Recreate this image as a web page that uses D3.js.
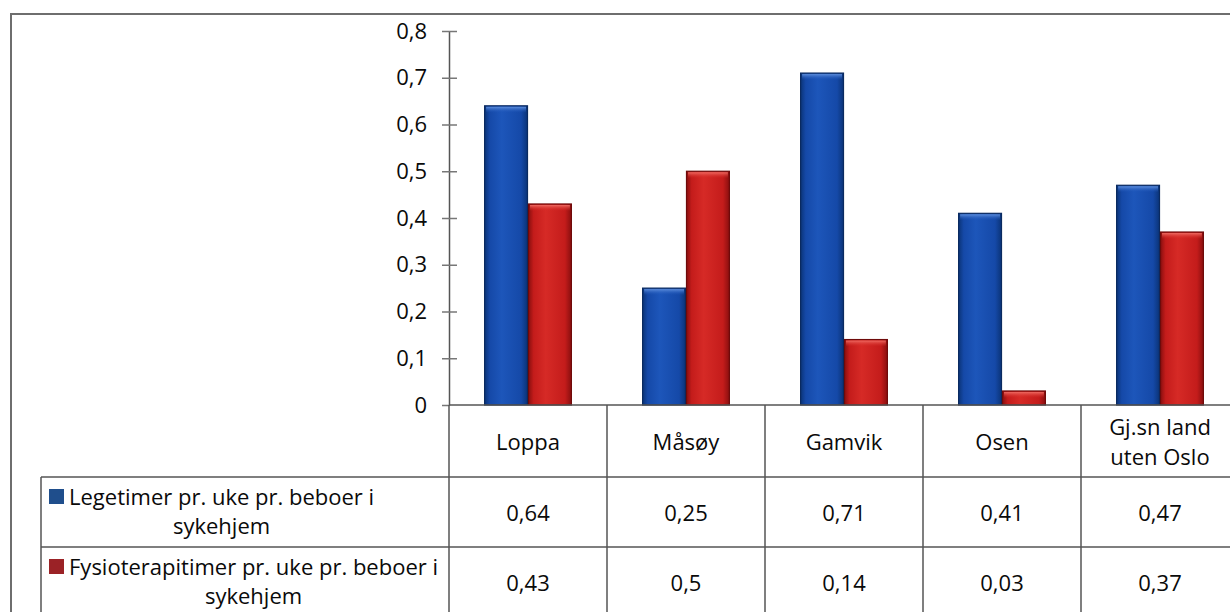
<!DOCTYPE html>
<html><head><meta charset="utf-8">
<script src="https://cdn.jsdelivr.net/npm/d3@7"></script>
<style>
html,body{margin:0;padding:0;background:#fff;}
text{font-family:"Open Sans","Noto Sans",sans-serif;fill:#0a0a0a;}
</style></head>
<body>
<svg id="c" width="1230" height="612"></svg>
<script>
const categories = ["Loppa", "Måsøy", "Gamvik", "Osen", "Gj.sn land\nuten Oslo"];
const seriesNames = ["Legetimer pr. uke pr. beboer i sykehjem", "Fysioterapitimer pr. uke pr. beboer i sykehjem"];
const legeValues = [0.64, 0.25, 0.71, 0.41, 0.47];
const fysioValues = [0.43, 0.5, 0.14, 0.03, 0.37];
const tableLabels = [["0,64","0,25","0,71","0,41","0,47"],["0,43","0,5","0,14","0,03","0,37"]];
const yTicks = [0, 0.1, 0.2, 0.3, 0.4, 0.5, 0.6, 0.7, 0.8];

const svg = d3.select("#c");
const W = 1230, H = 612;
const plotL = 449, plotR = 1239, plotT = 31, plotB = 405;
const row1B = 477, row2B = 547, legendL = 41;
const FS = 22;

const seriesVals = [legeValues, fysioValues];
const fills = ["blue","red"];
const legendColors = ["#1f4e8c","#9b2226"];

const defs = svg.append("defs");
function grad(id, edge, mid, light){
  const g = defs.append("linearGradient").attr("id", id).attr("x1","0").attr("x2","1").attr("y1","0").attr("y2","0");
  g.append("stop").attr("offset","0%").attr("stop-color",edge);
  g.append("stop").attr("offset","12%").attr("stop-color",mid);
  g.append("stop").attr("offset","40%").attr("stop-color",light);
  g.append("stop").attr("offset","85%").attr("stop-color",mid);
  g.append("stop").attr("offset","100%").attr("stop-color",edge);
}
grad("blue", "#0b3478", "#1549a8", "#1d56ba");
grad("red", "#8a0f0f", "#c41c1b", "#d62a26");
function vgrad(id, top, bottom){
  const g = defs.append("linearGradient").attr("id", id).attr("x1","0").attr("x2","0").attr("y1","0").attr("y2","1");
  g.append("stop").attr("offset","0%").attr("stop-color",top);
  g.append("stop").attr("offset","100%").attr("stop-color",bottom).attr("stop-opacity",0);
}
vgrad("blueTop", "#5d8ddb", "#1d56ba");
vgrad("redTop", "#ee6a62", "#d62a26");

// outer border
svg.append("path").attr("d", `M11,${H+5} L11,14 L${W+5},14`).attr("fill","none").attr("stroke","#6e6e6e").attr("stroke-width",2);

const x0 = d3.scaleBand().domain(d3.range(categories.length)).range([plotL, plotR]).padding(0);
const x1 = d3.scaleBand().domain([0,1]).range([0, x0.bandwidth()]).paddingInner(0).paddingOuter(0.8);
const y = d3.scaleLinear().domain([0, 0.8]).range([plotB, plotT]);

// bars
seriesVals.forEach((vals, s) => {
  const g = svg.append("g");
  g.selectAll("rect.bar").data(vals).join("rect").attr("class","bar")
    .attr("x", (d,i) => x0(i) + x1(s) + 0.5)
    .attr("width", x1.bandwidth() - 1)
    .attr("y", d => y(d))
    .attr("height", d => y(0) - y(d))
    .attr("fill", `url(#${fills[s]})`)
    .attr("stroke", s === 0 ? "#0a2a60" : "#6e0a0a")
    .attr("stroke-width", 1.2);
  g.selectAll("rect.cap").data(vals).join("rect").attr("class","cap")
    .attr("x", (d,i) => x0(i) + x1(s) + 2)
    .attr("width", x1.bandwidth() - 4)
    .attr("y", d => y(d) + 1)
    .attr("height", d => Math.min(6, y(0) - y(d) - 2))
    .attr("fill", `url(#${fills[s]}Top)`);
});

// y axis
const yAxis = d3.axisLeft(y).tickValues(yTicks).tickSize(0).tickPadding(22)
  .tickFormat(d => d === 0 ? "0" : d3.format(".1f")(d).replace(".", ","));
const ga = svg.append("g").attr("transform", `translate(${plotL},0)`).call(yAxis);
ga.select(".domain").attr("stroke", "#555").attr("stroke-width", 1.5);
ga.selectAll(".tick text").attr("font-size", FS).attr("fill", "#0a0a0a").style("font-family", '"Open Sans","Noto Sans",sans-serif');
ga.selectAll(".tick").append("line").attr("x1", -7).attr("x2", d => d === 0 ? 0 : 8).attr("stroke", "#777").attr("stroke-width", 1.5);

// table
const tg = svg.append("g").attr("stroke", "#555").attr("stroke-width", 1.5);
tg.append("line").attr("x1", plotL).attr("x2", W).attr("y1", plotB).attr("y2", plotB);
tg.append("line").attr("x1", legendL).attr("x2", W).attr("y1", row1B).attr("y2", row1B);
tg.append("line").attr("x1", legendL).attr("x2", W).attr("y1", row2B).attr("y2", row2B);
tg.append("line").attr("x1", legendL).attr("x2", legendL).attr("y1", row1B).attr("y2", H);
d3.range(categories.length + 1).forEach(i => {
  const xx = i < categories.length ? x0(i) : plotR;
  tg.append("line").attr("x1", xx).attr("x2", xx).attr("y1", plotB).attr("y2", H);
});

// category header
categories.forEach((c, i) => {
  const lines = c.split("\n");
  const cx = x0(i) + x0.bandwidth()/2;
  const cy = (plotB + row1B)/2;
  const lh = 30;
  lines.forEach((ln, k) => {
    svg.append("text").attr("x", cx).attr("y", cy + (k - (lines.length-1)/2) * lh)
      .attr("text-anchor","middle").attr("dominant-baseline","central").attr("font-size", FS).text(ln);
  });
});

// values rows
const rowCenters = [(row1B + row2B)/2, (row2B + 616)/2];
tableLabels.forEach((row, r) => {
  row.forEach((v, i) => {
    svg.append("text").attr("x", x0(i) + x0.bandwidth()/2).attr("y", rowCenters[r])
      .attr("text-anchor","middle").attr("dominant-baseline","central").attr("font-size", FS).text(v);
  });
});

// legend cells
const legendLines = [["Legetimer pr. uke pr. beboer i", "sykehjem"], ["Fysioterapitimer pr. uke pr. beboer i", "sykehjem"]];
const legendTop = [row1B, row2B];
legendLines.forEach((lines, r) => {
  const y1 = legendTop[r] + 19, y2 = legendTop[r] + 48;
  svg.append("rect").attr("x", 49).attr("y", y1 - 7).attr("width", 15).attr("height", 15).attr("fill", legendColors[r]);
  const t1 = svg.append("text").attr("x", 69).attr("y", y1).attr("dominant-baseline","central").attr("font-size", FS).text(lines[0]);
  const w = t1.node().getComputedTextLength();
  svg.append("text").attr("x", 69 + w/2).attr("y", y2).attr("text-anchor","middle").attr("dominant-baseline","central").attr("font-size", FS).text(lines[1]);
});
</script>
</body></html>
